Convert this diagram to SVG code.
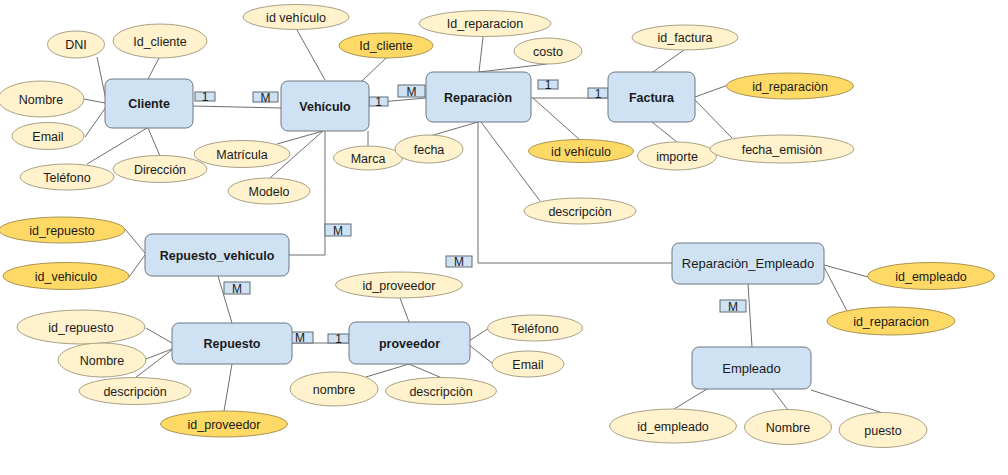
<svg xmlns="http://www.w3.org/2000/svg" width="1008" height="475" viewBox="0 0 1008 475">
<style>
.ent rect{fill:#cfe2f3;stroke:#6d7780;stroke-width:1}
.ent text{font-family:"Liberation Sans",Arial,sans-serif;font-size:12.5px;font-weight:bold;fill:#1a1a1a;text-anchor:middle}
.ent.plain text{font-weight:normal;font-size:13px}
.attr ellipse{fill:#fff2cc;stroke:#a8a186;stroke-width:1}
.attr ellipse.key{fill:#ffd966;stroke:#a89550}
.attr text{font-family:"Liberation Sans",Arial,sans-serif;font-size:12.5px;fill:#1a1a1a;text-anchor:middle}
.conn line,.conn polyline{stroke:#6e6e6e;stroke-width:1;fill:none}
.card rect{fill:#cfe2f3;stroke:#5f6b75;stroke-width:1}
.card text{font-family:"Liberation Sans",Arial,sans-serif;font-size:12px;fill:#1a1a1a;text-anchor:middle}
</style>
<rect width="1008" height="475" fill="#ffffff"/>
<g id="connectors" class="conn">
<line x1="97" y1="57" x2="106" y2="100"/>
<line x1="84" y1="99" x2="105" y2="103"/>
<line x1="85" y1="137" x2="106" y2="107"/>
<line x1="87" y1="164" x2="147" y2="128"/>
<line x1="160" y1="156" x2="148" y2="128"/>
<line x1="159" y1="58" x2="148" y2="79"/>
<line x1="193" y1="106" x2="281" y2="108"/>
<line x1="297" y1="30" x2="325" y2="80"/>
<line x1="386" y1="58" x2="362" y2="81"/>
<line x1="277" y1="144" x2="323" y2="131"/>
<line x1="270" y1="178" x2="323" y2="131"/>
<line x1="368" y1="131" x2="368" y2="147"/>
<polyline points="325,131 325,255 289,255"/>
<line x1="369" y1="103" x2="426" y2="98"/>
<line x1="483" y1="37" x2="479" y2="72"/>
<line x1="547" y1="64" x2="479" y2="72"/>
<line x1="430" y1="136" x2="478" y2="122"/>
<line x1="580" y1="140" x2="533" y2="98"/>
<line x1="540" y1="201" x2="481" y2="122"/>
<polyline points="478,122 478,263 672,263"/>
<line x1="531" y1="98" x2="608" y2="98"/>
<line x1="684" y1="50" x2="653" y2="72"/>
<line x1="695" y1="97" x2="728" y2="85"/>
<line x1="695" y1="100" x2="732" y2="138"/>
<line x1="677" y1="142" x2="652" y2="122"/>
<line x1="125" y1="229" x2="145" y2="253"/>
<line x1="129" y1="277" x2="145" y2="255"/>
<line x1="218" y1="276" x2="232" y2="323"/>
<line x1="146" y1="328" x2="172" y2="343"/>
<line x1="146" y1="359" x2="172" y2="349"/>
<line x1="135" y1="378" x2="173" y2="349"/>
<line x1="224" y1="411" x2="232" y2="364"/>
<line x1="292" y1="343" x2="349" y2="343"/>
<line x1="400" y1="298" x2="409" y2="322"/>
<line x1="469" y1="341" x2="489" y2="328"/>
<line x1="469" y1="345" x2="492" y2="363"/>
<line x1="366" y1="377" x2="409" y2="364"/>
<line x1="442" y1="378" x2="409" y2="364"/>
<line x1="824" y1="265" x2="868" y2="277"/>
<line x1="824" y1="267" x2="847" y2="311"/>
<line x1="748" y1="284" x2="752" y2="347"/>
<line x1="674" y1="409" x2="707" y2="389"/>
<line x1="788" y1="410" x2="772" y2="389"/>
<line x1="883" y1="413" x2="811" y2="390"/>
<g id="cardinalities" class="card">
<rect x="195" y="92" width="20" height="9"/><text x="205" y="101">1</text>
<rect x="253" y="92" width="25" height="10"/><text x="265.5" y="101.5">M</text>
<rect x="369" y="97" width="19" height="9"/><text x="378.5" y="106">1</text>
<rect x="398" y="85" width="27" height="12"/><text x="411.5" y="95.5">M</text>
<rect x="538" y="80" width="20" height="9"/><text x="548" y="89">1</text>
<rect x="588" y="88" width="20" height="10"/><text x="598" y="97.5">1</text>
<rect x="325" y="224" width="26" height="12"/><text x="338" y="234.5">M</text>
<rect x="446" y="256" width="26" height="11"/><text x="459" y="266">M</text>
<rect x="224" y="282" width="26" height="12"/><text x="237" y="292.5">M</text>
<rect x="287" y="332" width="26" height="11"/><text x="300" y="342">M</text>
<rect x="328" y="334" width="21" height="9"/><text x="338.5" y="343">1</text>
<rect x="720" y="300" width="26" height="12"/><text x="733" y="310.5">M</text>
</g>
</g>
<g id="cliente-attrs" class="attr">
<ellipse cx="76" cy="44.5" rx="28.5" ry="13.5"/><text x="76" y="49">DNI</text>
<ellipse cx="160" cy="41" rx="47" ry="17"/><text x="160" y="45.5">Id_cliente</text>
<ellipse cx="41" cy="99" rx="43" ry="18"/><text x="41" y="103.5">Nombre</text>
<ellipse cx="48" cy="136" rx="36" ry="13.5"/><text x="48" y="140.5">Email</text>
<ellipse cx="67" cy="177" rx="47" ry="13"/><text x="67" y="181.5">Teléfono</text>
<ellipse cx="242" cy="154" rx="48" ry="13.5"/><text x="242" y="158.5">Matrícula</text>
<ellipse cx="160" cy="169" rx="47" ry="13.5"/><text x="160" y="173.5">Dirección</text>
</g>
<g id="cliente" class="ent"><rect x="105" y="79" width="88" height="49" rx="7"/><text x="149" y="108">Cliente</text></g>
<g id="vehiculo-attrs" class="attr">
<ellipse cx="296" cy="17" rx="53" ry="12.5"/><text x="296" y="21.5">id vehículo</text>
<ellipse class="key" cx="386" cy="45.5" rx="47" ry="12.5"/><text x="386" y="50">Id_cliente</text>
<ellipse cx="269" cy="191" rx="41" ry="13"/><text x="269" y="195.5">Modelo</text>
<ellipse cx="368" cy="158" rx="34.5" ry="12"/><text x="368" y="162.5">Marca</text>
</g>
<g id="vehiculo" class="ent"><rect x="281" y="81" width="88" height="50" rx="7"/><text x="325" y="111">Vehículo</text></g>
<g id="reparacion-attrs" class="attr">
<ellipse cx="485" cy="23.5" rx="66" ry="13"/><text x="485" y="28">Id_reparacion</text>
<ellipse cx="548" cy="51" rx="34" ry="13"/><text x="548" y="55.5">costo</text>
<ellipse cx="429" cy="149" rx="34" ry="14"/><text x="429" y="153.5">fecha</text>
<ellipse class="key" cx="581" cy="151" rx="52.5" ry="11.5"/><text x="581" y="155.5">id vehículo</text>
<ellipse cx="580" cy="211" rx="56" ry="13"/><text x="580" y="215.5">descripciòn</text>
</g>
<g id="reparacion" class="ent"><rect x="426" y="72" width="105" height="50" rx="7"/><text x="478" y="101.5">Reparaciòn</text></g>
<g id="factura-attrs" class="attr">
<ellipse cx="685" cy="37.5" rx="53" ry="12.5"/><text x="685" y="42">id_factura</text>
<ellipse class="key" cx="790" cy="86" rx="63.5" ry="13"/><text x="790" y="90.5">id_reparaciòn</text>
<ellipse cx="677" cy="156" rx="39.5" ry="14"/><text x="677" y="160.5">importe</text>
<ellipse cx="782" cy="149" rx="72" ry="14"/><text x="782" y="153.5">fecha_emisiòn</text>
</g>
<g id="factura" class="ent"><rect x="608" y="72" width="87" height="50" rx="7"/><text x="651.5" y="101.5">Factura</text></g>
<g id="repuesto-vehiculo-attrs" class="attr">
<ellipse class="key" cx="62" cy="230" rx="63" ry="13"/><text x="62" y="234.5">id_repuesto</text>
<ellipse class="key" cx="66" cy="276" rx="63" ry="13.5"/><text x="66" y="280.5">id_vehiculo</text>
</g>
<g id="repuesto-vehiculo" class="ent"><rect x="145" y="234" width="144" height="42" rx="7"/><text x="217" y="259.5">Repuesto_vehiculo</text></g>
<g id="repuesto-attrs" class="attr">
<ellipse cx="81" cy="327" rx="64" ry="17"/><text x="81" y="331.5">id_repuesto</text>
<ellipse cx="102" cy="360" rx="44" ry="17"/><text x="102" y="364.5">Nombre</text>
<ellipse cx="135" cy="391" rx="56" ry="13.5"/><text x="135" y="395.5">descripciòn</text>
<ellipse class="key" cx="224" cy="424" rx="63.5" ry="13"/><text x="224" y="428.5">id_proveedor</text>
</g>
<g id="repuesto" class="ent"><rect x="172" y="323" width="120" height="41" rx="7"/><text x="232" y="348">Repuesto</text></g>
<g id="proveedor-attrs" class="attr">
<ellipse cx="399" cy="285" rx="63.5" ry="13"/><text x="399" y="289.5">id_proveedor</text>
<ellipse cx="535" cy="328" rx="47.5" ry="13"/><text x="535" y="332.5">Teléfono</text>
<ellipse cx="528" cy="364" rx="36" ry="13"/><text x="528" y="368.5">Email</text>
<ellipse cx="334" cy="389" rx="44" ry="17"/><text x="334" y="393.5">nombre</text>
<ellipse cx="441" cy="391" rx="55.5" ry="13.5"/><text x="441" y="395.5">descripciòn</text>
</g>
<g id="proveedor" class="ent"><rect x="349" y="322" width="121" height="42" rx="7"/><text x="409.5" y="347.5">proveedor</text></g>
<g id="reparacion-empleado-attrs" class="attr">
<ellipse class="key" cx="931" cy="276" rx="63.5" ry="13.5"/><text x="931" y="280.5">id_empleado</text>
<ellipse class="key" cx="891" cy="321" rx="64" ry="14"/><text x="891" y="325.5">id_reparacion</text>
</g>
<g id="reparacion-empleado" class="ent plain"><rect x="672" y="243" width="152" height="41" rx="7"/><text x="748" y="268">Reparaciòn_Empleado</text></g>
<g id="empleado-attrs" class="attr">
<ellipse cx="673" cy="426" rx="63.5" ry="17"/><text x="673" y="430.5">id_empleado</text>
<ellipse cx="788" cy="427" rx="43.5" ry="17.5"/><text x="788" y="431.5">Nombre</text>
<ellipse cx="883" cy="430" rx="44" ry="17.5"/><text x="883" y="434.5">puesto</text>
</g>
<g id="empleado" class="ent plain"><rect x="692" y="347" width="119" height="42" rx="7"/><text x="751.5" y="372.5">Empleado</text></g>
</svg>
